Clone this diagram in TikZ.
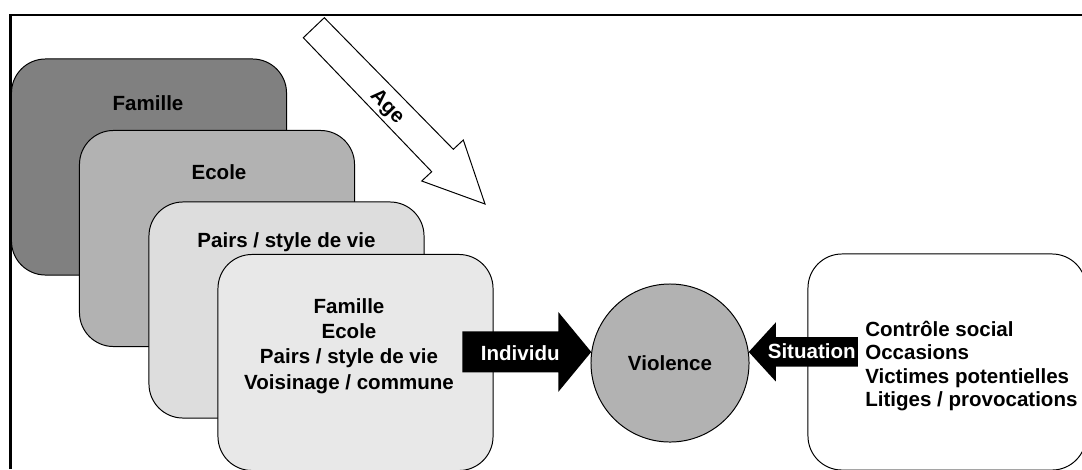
\documentclass[tikz,border=0pt]{standalone}
\usepackage{fontspec}
\setmainfont{Liberation Sans}
\usetikzlibrary{calc}
\definecolor{famgray}{gray}{0.50}
\definecolor{ecolegray}{gray}{0.70}
\definecolor{pairsgray}{gray}{0.865}
\definecolor{frontgray}{gray}{0.91}
\definecolor{violgray}{gray}{0.70}
\tikzset{
  ctx/.style={draw, line width=0.7pt, rounded corners=0.85cm,
    minimum width=6.875cm, minimum height=5.4cm, inner sep=0pt},
  lbl/.style={font=\fontsize{14.6}{17.9}\selectfont\bfseries, inner sep=0pt},
  blockarrow/.style={fill=black},
}

\begin{document}
\begin{tikzpicture}[x=0.025cm, y=-0.025cm]
  \useasboundingbox (0,0) rectangle (1082,469);
  % frame
  \draw[line width=0.05cm] (10.5,469) -- (10.5,15) -- (1082,15);
  % age arrow
  \draw[fill=white, line width=0.7pt] (303.3,37.7) -- (324.3,17.7) -- (453.3,149.3)
    -- (463.3,140) -- (485,204) -- (421.7,181) -- (431.7,171.7) -- cycle;
  \node[lbl, rotate=-45.8] (age) at (386.7,107) {Age};
  % stacked contexts
  \node[ctx, fill=famgray] (famille) at (149,167) {};
  \node[lbl] (famtxt) at (148,103) {Famille};
  \node[ctx, fill=ecolegray] (ecole) at (217,238.5) {};
  \node[lbl] (ecoletxt) at (219,172) {Ecole};
  \node[ctx, fill=pairsgray] (pairs) at (286.5,310) {};
  \node[lbl] (pairstxt) at (286.5,242) {Pairs / style de vie};
  \node[ctx, fill=frontgray] (front) at (355.5,362.5) {};
  \node[lbl, align=center] (fronttxt) at (349,346)
    {Famille\\Ecole\\Pairs / style de vie\\Voisinage / commune};
  % situation box
  \node[ctx, fill=white, minimum width=6.95cm] (situbox) at (947,362) {};
  \node[lbl, align=left, anchor=west, font=\fontsize{14.6}{16.6}\selectfont\bfseries]
    (situtxt) at (865,366)
    {Contr\^ole social\\Occasions\\Victimes potentielles\\Litiges / provocations};
  % violence
  \node[lbl, draw, circle, fill=violgray, line width=0.7pt, minimum size=3.95cm]
    (violence) at (670,363) {Violence};
  % individu arrow
  \coordinate (T) at (violence.172.7);
  \fill[blockarrow] ($(T)+(-129,-20.5)$) -- ($(T)+(-33,-20.5)$) -- ($(T)+(-33,-40)$)
    -- (T) -- ($(T)+(-33,40)$) -- ($(T)+(-33,20.5)$) -- ($(T)+(-129,20.5)$) -- cycle;
  \node[lbl, white] (indiv) at ($(T)+(-71,1.5)$) {Individu};
  % situation arrow
  \coordinate (S) at (violence.8);
  \fill[blockarrow] ($(S)+(109,-14.7)$) -- ($(S)+(27,-14.7)$) -- ($(S)+(27,-29.5)$)
    -- (S) -- ($(S)+(27,29.5)$) -- ($(S)+(27,14.7)$) -- ($(S)+(109,14.7)$) -- cycle;
  \node[lbl, white] (situ) at ($(S)+(63,-1)$) {Situation};
\end{tikzpicture}
\end{document}
